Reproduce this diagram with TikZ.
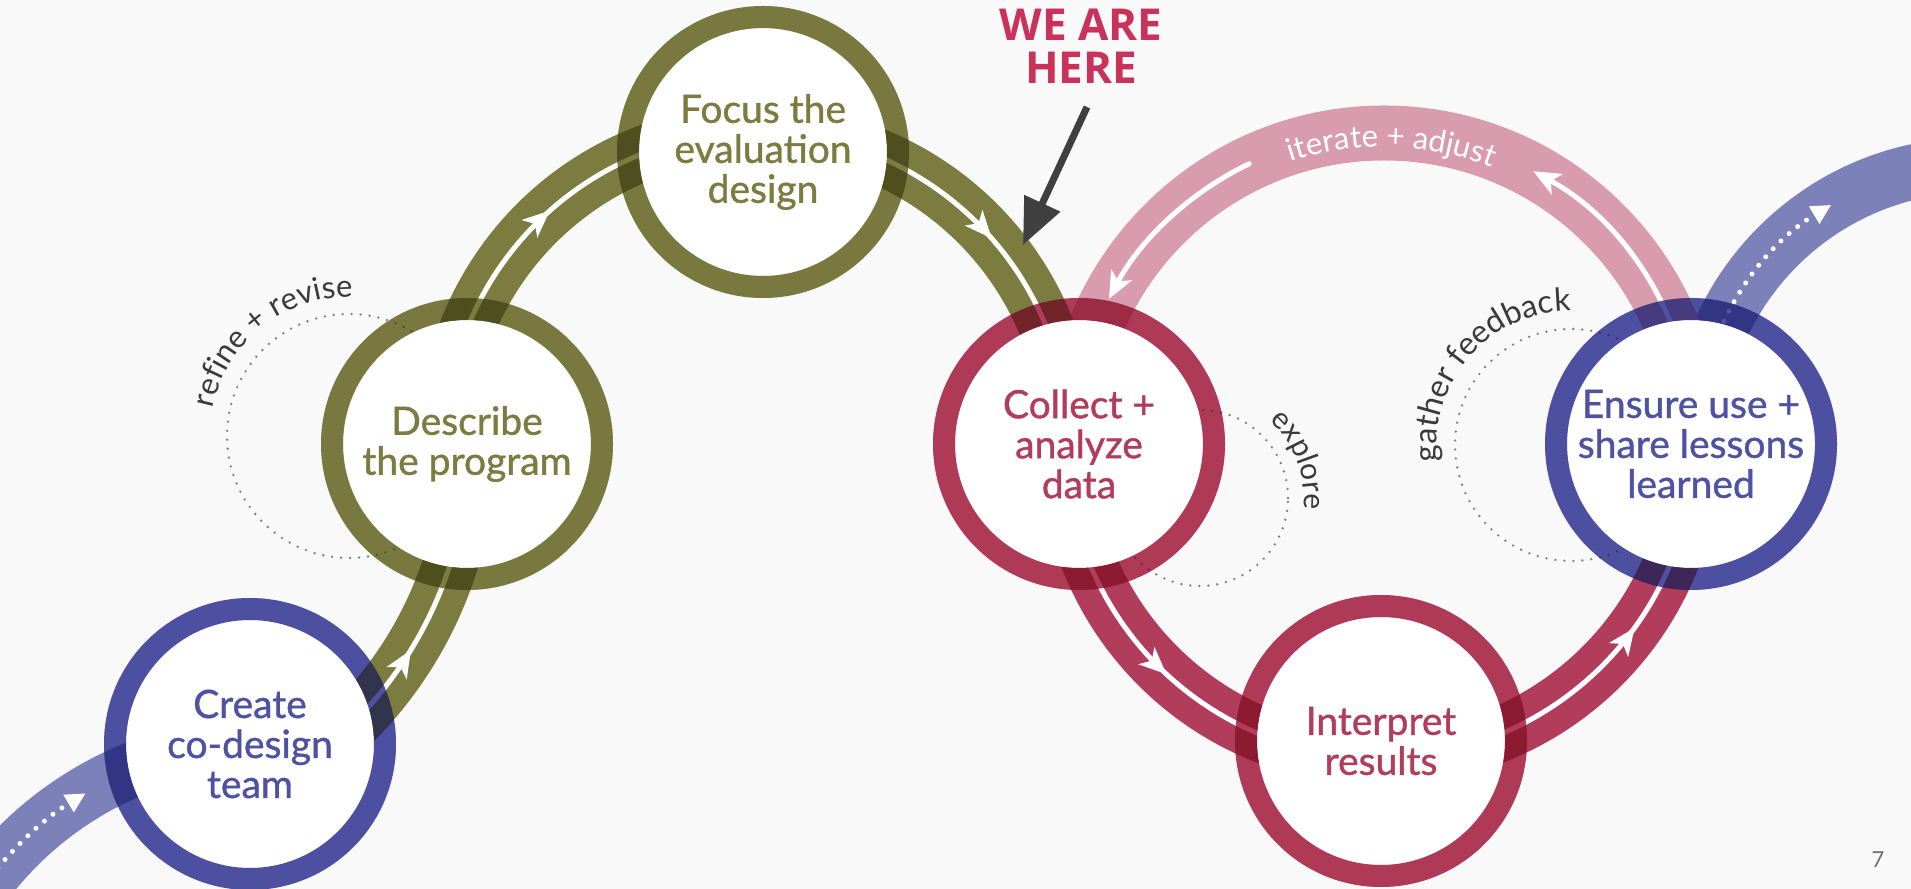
\documentclass[tikz,border=0pt]{standalone}
\usepackage{fontspec}
\setmainfont{Lato}
\newfontfamily\stagefont{Lato}[FakeBold=1]
\newfontfamily\herefont{Open Sans}
\usetikzlibrary{arrows.meta,decorations.text,decorations.markings,calc}
\definecolor{bg}{RGB}{249,249,249}
\definecolor{olive}{RGB}{124,123,64}
\definecolor{crim}{RGB}{178,60,91}
\definecolor{navy}{RGB}{79,82,163}
\definecolor{pinkarc}{RGB}{216,156,174}
\definecolor{lblue}{RGB}{125,129,186}
\definecolor{herered}{RGB}{200,50,91}
\definecolor{lblgray}{RGB}{58,58,58}
\definecolor{dotgray}{RGB}{125,125,125}
\definecolor{arrowgray}{RGB}{64,64,64}
\definecolor{pagegray}{RGB}{110,110,110}
\newcommand\allrings{%
  \draw[ringline=navy] (cCreate) circle[radius=135];
  \draw[ringline=olive] (cDescribe) circle[radius=135];
  \draw[ringline=olive] (cFocus) circle[radius=135];
  \draw[ringline=crim] (cCollect) circle[radius=135];
  \draw[ringline=crim] (cInterpret) circle[radius=135];
  \draw[ringline=navy] (cEnsure) circle[radius=135];}
\begin{document}
\begin{tikzpicture}[x=1bp,y=1bp,
  band/.style={draw=#1,line width=55bp},
  rail/.style={color=white,line width=5bp},
  dotrail/.style={color=white,line width=5bp,line cap=round,dash pattern=on 0bp off 11bp},
  loopdots/.style={draw=dotgray,line width=2.6bp,line cap=round,dash pattern=on 0bp off 9bp},
  ringline/.style={draw=#1,line width=22bp},
  stage/.style={align=center,text=#1,font=\stagefont\fontsize{39bp}{40bp}\selectfont},
  arrowsat/.style={postaction={decorate,decoration={markings,mark=at position #1 with {\arrow{Stealth[length=27bp,width=23bp,inset=7bp]}}}}},
  railtip/.style={-{Stealth[length=27bp,width=23bp,inset=7bp]}},
  dottip/.style={-{Triangle[length=20bp,width=19bp]}}
]
\useasboundingbox (0,0) rectangle (1911,889);
\fill[bg] (0,0) rectangle (1911,889);
\clip (0,0) rectangle (1911,889);

% stage centres
\coordinate (cCreate) at (250,145);
\coordinate (cDescribe) at (467,445);
\coordinate (cFocus) at (763,737);
\coordinate (cCollect) at (1079,445);
\coordinate (cInterpret) at (1381,148);
\coordinate (cEnsure) at (1691,445);
% arc centres
\coordinate (oLL) at (267,-206);
\coordinate (oLow) at (75,445);
\coordinate (oUp) at (757,445);
\coordinate (oRed) at (1380,445);
\coordinate (oPink) at (1384,445);
\coordinate (oTR) at (1975,445);
% loop centres
\coordinate (lRefine) at (349,453);
\coordinate (lExplore) at (1200,391);
\coordinate (lGather) at (1571,444);

% dotted loops
\draw[loopdots] (lRefine) circle[radius=122];
\draw[loopdots] (lExplore) circle[radius=88];
\draw[loopdots] (lGather) circle[radius=116];

% light blue in / out bands
\draw[band=lblue] ([shift={(150:352)}]oLL) arc[start angle=150,end angle=92,radius=352];
\draw[dotrail,dottip] ([shift={(147:352)}]oLL) arc[start angle=147,end angle=121,radius=352];
\draw[band=lblue] ([shift={(180:279)}]oTR) arc[start angle=180,end angle=92,radius=279];
\draw[dotrail,dottip] ([shift={(172:279)}]oTR) arc[start angle=172,end angle=121,radius=279];

% pink iterate arc
\draw[band=pinkarc] ([shift={(0:311)}]oPink) arc[start angle=0,end angle=180,radius=311];
\draw[rail,railtip] ([shift={(5:311)}]oPink) arc[start angle=5,end angle=61.3,radius=311];
\draw[rail,railtip,line cap=round] ([shift={(115.7:311)}]oPink) arc[start angle=115.7,end angle=152.2,radius=311];

% red lower arc
\draw[band=crim] ([shift={(180:314)}]oRed) arc[start angle=180,end angle=360,radius=314];
\draw[rail,arrowsat=0.262,arrowsat=0.801] ([shift={(180:314)}]oRed) arc[start angle=180,end angle=360,radius=314];

% olive lower arc
\draw[band=olive] ([shift={(-50:394)}]oLow) arc[start angle=-50,end angle=0,radius=394];
\draw[rail,arrowsat=0.37] ([shift={(-50:394)}]oLow) arc[start angle=-50,end angle=0,radius=394];

% olive upper arc
\draw[band=olive] ([shift={(180:312)}]oUp) arc[start angle=180,end angle=0,radius=312];
\draw[rail,arrowsat=0.269,arrowsat=0.771] ([shift={(180:312)}]oUp) arc[start angle=180,end angle=0,radius=312];

% white disks
\foreach \c in {cCreate,cDescribe,cFocus,cCollect,cInterpret,cEnsure}
  \fill[white] (\c) circle[radius=124];

% rings: multiply for the crossings, then a light normal layer to soften them
\begin{scope}[blend mode=multiply]
\allrings
\end{scope}
\begin{scope}[opacity=0.3]
\allrings
\end{scope}

% stage labels
\node[stage=navy] (tCreate) at (cCreate) {Create\\co-design\\team};
\node[stage=olive] (tDescribe) at (cDescribe) {Describe\\the program};
\node[stage=olive] (tFocus) at (cFocus) {Focus the\\evaluation\\design};
\node[stage=crim] (tCollect) at (cCollect) {Collect +\\analyze\\data};
\node[stage=crim] (tInterpret) at (cInterpret) {Interpret\\results};
\node[stage=navy] (tEnsure) at (cEnsure) {Ensure use +\\share lessons\\learned};

% curved labels
\path[decorate,decoration={text along path,text align=center,text color=lblgray,
  text={|\fontsize{31bp}{31bp}\selectfont|refine + revise}}]
  ([shift={(178.5:139)}]lRefine) arc[start angle=178.5,end angle=78.5,radius=139];
\path[decorate,decoration={text along path,text align=center,text color=lblgray,
  text={|\fontsize{32bp}{32bp}\selectfont|gather feedback}}]
  ([shift={(192:134)}]lGather) arc[start angle=192,end angle=85,radius=134];
\path[decorate,decoration={text along path,text align=center,text color=lblgray,
  text={|\fontsize{30bp}{30bp}\selectfont|explore}}]
  ([shift={(75:104)}]lExplore) arc[start angle=75,end angle=-33,radius=104];
\path[decorate,decoration={text along path,text align=center,text color=white,
  text={|\fontsize{31bp}{31bp}\selectfont|iterate + adjust}}]
  ([shift={(125:297)}]oPink) arc[start angle=125,end angle=52,radius=297];

% we are here
\node[align=center,text=herered,font=\herefont\bfseries\fontsize{44bp}{43bp}\selectfont] (here) at (1081,843) {WE ARE\\HERE};
\coordinate (hereTail) at (1087,782);
\coordinate (hereTip) at (1023,644);
\draw[arrowgray,line width=7bp,-{Triangle[length=46bp,width=38bp]}] (hereTail) -- (hereTip);

% page number
\node[text=pagegray,font=\fontsize{22bp}{22bp}\selectfont] (pagenum) at (1878,29) {7};
\end{tikzpicture}
\end{document}
